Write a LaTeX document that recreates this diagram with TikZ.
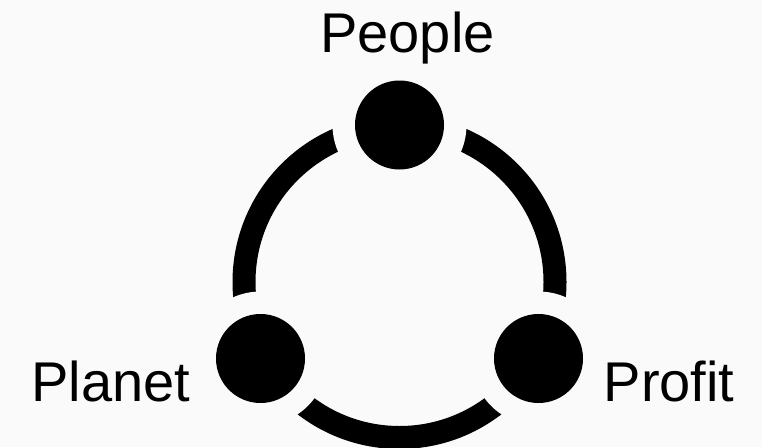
\documentclass[tikz,border=0pt]{standalone}
\usepackage{fontspec}
\setmainfont{Liberation Sans}
\definecolor{bg}{HTML}{FAFAFA}
\begin{document}
\begin{tikzpicture}[x=1pt,y=-1pt,
  dot/.style={circle,fill=black,minimum size=89pt,inner sep=0pt},
  halo/.style={circle,fill=bg,minimum size=134pt,inner sep=0pt},
  ring/.style={line width=23pt},
  lbl/.style={font=\fontsize{56}{60}\selectfont,inner sep=0pt,anchor=base}]
\fill[bg] (0,0) rectangle (762,447);
\useasboundingbox (0,0) rectangle (762,447);
\coordinate (c) at (399.5,282);
\draw[ring] (c) circle[radius=155.5pt];
\node[halo] (hpeople) at (399.5,125) {};
\node[halo] (hplanet) at (260.5,358.5) {};
\node[halo] (hprofit) at (538.5,358.5) {};
\node[dot] (people) at (hpeople) {};
\node[dot] (planet) at (hplanet) {};
\node[dot] (profit) at (hprofit) {};
\node[lbl] (tpeople) at (407.5,52.3) {People};
\node[lbl] (tplanet) at (111,401.7) {Planet};
\node[lbl] (tprofit) at (669,401.7) {Profit};
\end{tikzpicture}
\end{document}
